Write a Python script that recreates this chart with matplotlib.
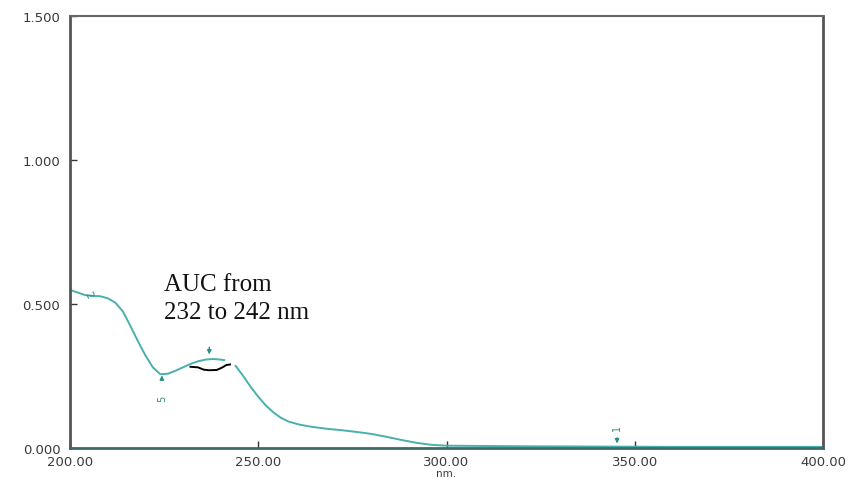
import matplotlib.pyplot as plt

# spectrum (nm, absorbance)
wl_a = [200, 202, 204, 206, 208, 210, 212, 214, 216, 218, 220, 222, 224, 226, 228,
        230, 232, 234, 236, 238, 240, 241]
abs_a = [0.549, 0.540, 0.531, 0.528, 0.527, 0.520, 0.505, 0.475, 0.425, 0.372, 0.322,
         0.280, 0.256, 0.258, 0.268, 0.280, 0.292, 0.301, 0.307, 0.309, 0.307, 0.305]
wl_b = [244, 246, 248, 250, 252, 254, 256, 258, 261, 264, 268, 272, 276, 280, 284,
        288, 292, 296, 300, 320, 340, 360, 380, 400]
abs_b = [0.285, 0.250, 0.212, 0.178, 0.148, 0.124, 0.105, 0.092, 0.081, 0.074, 0.067,
         0.062, 0.056, 0.049, 0.039, 0.028, 0.018, 0.011, 0.008, 0.006, 0.005, 0.004,
         0.004, 0.004]

# hand drawn AUC mark
auc_x = [232.0, 234.0, 235.5, 237.0, 239.0, 240.5, 241.5, 242.5]
auc_y = [0.282, 0.280, 0.272, 0.270, 0.271, 0.280, 0.288, 0.290]

xticks = [200, 250, 300, 350, 400]
yticks = [0.0, 0.5, 1.0, 1.5]

teal = '#48b0ad'
pick = '#2a8f86'

fig = plt.figure(figsize=(8.52, 4.81), dpi=100)
ax = fig.add_axes([70 / 852, 1 - 449 / 481, 753 / 852, 432 / 481])

ax.plot(wl_a, abs_a, color=teal, lw=1.4)
ax.plot(wl_b, abs_b, color=teal, lw=1.4)
ax.plot(auc_x, auc_y, color='black', lw=1.4)

# little pick arrows from the instrument printout
arr = dict(arrowstyle='-|>', color=pick, lw=1, mutation_scale=6)
ax.annotate('', xy=(224.4, 0.262), xytext=(224.4, 0.225), arrowprops=arr)
ax.text(224.4, 0.175, '5', color=pick, fontsize=7, rotation=90, ha='center', va='center')
ax.annotate('', xy=(237.0, 0.315), xytext=(237.0, 0.36), arrowprops=arr)
ax.annotate('', xy=(345.3, 0.006), xytext=(345.3, 0.045), arrowprops=arr)
ax.text(345.3, 0.073, '1', color=pick, fontsize=7, rotation=90, ha='center', va='center')
ax.text(205.0, 0.535, '2', color=pick, fontsize=7, rotation=-60, ha='center', va='center')

ax.text(225.0, 0.569, 'AUC from', family='Liberation Serif', fontsize=18,
        ha='left', va='center', color='#111111')
ax.text(225.0, 0.472, '232 to 242 nm', family='Liberation Serif', fontsize=18,
        ha='left', va='center', color='#111111')

ax.set_xlim(200, 400)
ax.set_ylim(0, 1.5)
ax.set_xticks(xticks)
ax.set_xticklabels(['%.2f' % v for v in xticks])
ax.set_yticks(yticks)
ax.set_yticklabels(['%.3f' % v for v in yticks])
ax.tick_params(direction='in', length=5, width=1, colors='#333333', labelsize=9.5,
               labelcolor='#3a3a3a')
ax.tick_params(axis='y', pad=7)
ax.tick_params(axis='x', pad=5)
ax.set_xlabel('nm.', fontsize=7.5, labelpad=0, color='#3a3a3a')

for s in ['left', 'bottom', 'right']:
    ax.spines[s].set_linewidth(2)
    ax.spines[s].set_color('#555555')
ax.spines['bottom'].set_color('#3d6a68')
ax.spines['top'].set_linewidth(1.5)
ax.spines['top'].set_color('#666666')

fig.savefig('out.png', dpi=100)
